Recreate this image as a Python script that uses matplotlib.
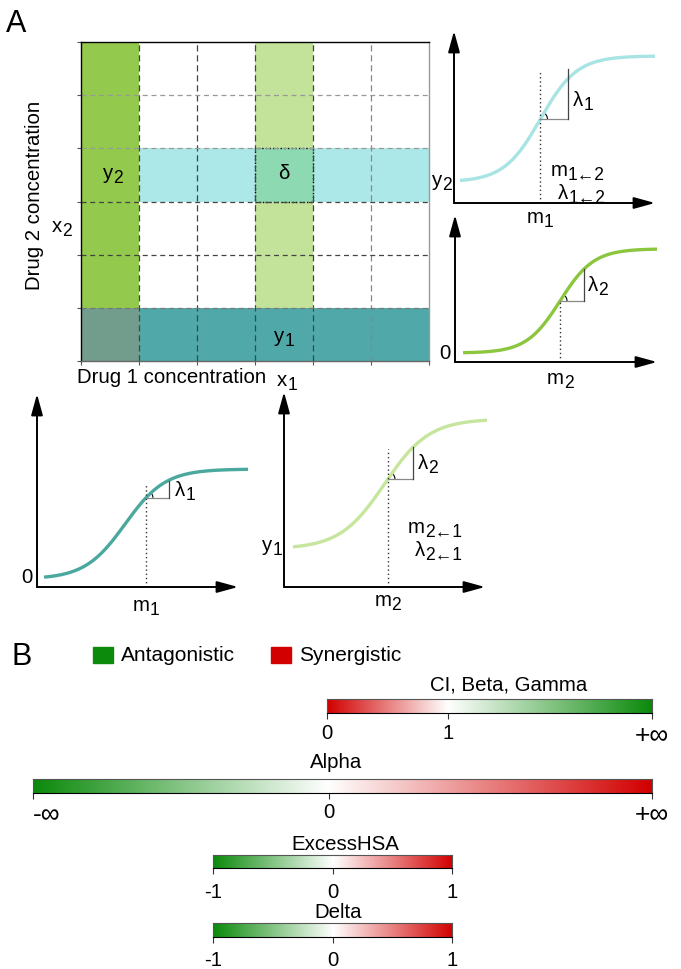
import numpy as np
import matplotlib
matplotlib.use("Agg")
import matplotlib.pyplot as plt
import matplotlib.patches as mpatches
from matplotlib.colors import ListedColormap, LinearSegmentedColormap
from matplotlib.transforms import IdentityTransform

plt.rcParams["font.family"] = ["Liberation Sans", "DejaVu Sans"]

W, H = 681, 970
FS = 14.7

# ── Data ─────────────────────────────────────────────────────────────────────
# dose-response matrix, row 0 = lowest drug 2 concentration
CELL_COLORS = ["#FFFFFF", "#93C94C", "#C3E39B", "#ADE8E8", "#8DD9B1", "#50A8A8", "#729C8B"]
GRID = [
    [6, 5, 5, 5, 5, 5],
    [1, 0, 0, 2, 0, 0],
    [1, 0, 0, 2, 0, 0],
    [1, 3, 3, 4, 3, 3],
    [1, 0, 0, 2, 0, 0],
    [1, 0, 0, 2, 0, 0],
]

# four dose-response curves (top-right, mid-right, bottom-left, bottom-middle)
CURVE_BOTTOM = [0.122, 0.061, 0.041, 0.195]
CURVE_TOP    = [0.855, 0.770, 0.611, 0.862]
CURVE_MID    = [0.43, 0.52, 0.438, 0.50]
CURVE_SLOPE  = [11, 12, 10, 9]
CURVE_START  = [0.03, 0.04, 0.035, 0.045]
CURVE_END    = [1.0, 1.0, 1.05, 1.01]
MARK_X       = [0.43, 0.52, 0.542, 0.517]
TRI_DX       = [0.139, 0.119, 0.114, 0.124]
TRI_TOP      = [0.779, 0.633, 0.55, 0.718]
CURVE_COLORS = ["#A8E4E4", "#8CC63F", "#4BA89F", "#C6E59D"]

# colour scales
GREEN = "#0B8A0B"
RED   = "#D20000"
BAR_NAMES  = ["CI, Beta, Gamma", "Alpha", "ExcessHSA", "Delta"]
BAR_TICKS  = [[0, 0.372, 1], [0, 0.478, 1], [0, 0.502, 1], [0, 0.502, 1]]
BAR_LABELS = [["0", "1", "+∞"], ["-∞", "0", "+∞"], ["-1", "0", "1"], ["-1", "0", "1"]]
BAR_ENDS   = [(RED, GREEN), (GREEN, RED), (GREEN, RED), (GREEN, RED)]

fig = plt.figure(figsize=(W / 100, H / 100), dpi=100)
renderer = fig.canvas.get_renderer()


def px_axes(l, t, r, b):
    return fig.add_axes([l / W, 1 - b / H, (r - l) / W, (b - t) / H])


def ftext(x, y, s, **kw):
    kw.setdefault("fontsize", FS)
    fig.text(x / W, 1 - y / H, s, **kw)


def sublabel(xd, yd, main, sub="", ha="left", size=FS):
    """main letter plus lowered subscript; xd, yd in display px, yd = glyph centre"""
    t1 = fig.text(0, 0, main, fontsize=size, transform=IdentityTransform(), va="baseline")
    t2 = fig.text(0, 0, sub, fontsize=size * 0.86, transform=IdentityTransform(), va="baseline")
    w1 = t1.get_window_extent(renderer).width
    w2 = t2.get_window_extent(renderer).width if sub else 0
    x0 = xd - {"left": 0, "center": (w1 + w2) / 2, "right": w1 + w2}[ha]
    base = yd - 0.3 * size * 100 / 72
    t1.set_position((x0, base))
    t2.set_position((x0 + w1, base - 4))


# ── Panel letters ────────────────────────────────────────────────────────────
ftext(6, 32, "A", fontsize=22, va="baseline")
ftext(11, 665, "B", fontsize=22, va="baseline")

# ── Matrix ───────────────────────────────────────────────────────────────────
ax = px_axes(81, 43, 429, 362)
ax.pcolormesh(np.array(GRID), cmap=ListedColormap(CELL_COLORS), vmin=-0.5, vmax=6.5)
ax.set_xlim(0, 6)
ax.set_ylim(0, 6)
for x, c in zip(range(1, 6), ["#444", "#444", "#444", "#444", "#888"]):
    ax.axvline(x, color=c, lw=0.9, dashes=(5, 3))
for y, c in zip(range(1, 6), ["#777", "#444", "#444", "#999", "#999"]):
    ax.axhline(y, color=c, lw=0.9, dashes=(4, 3))
ax.add_patch(mpatches.Rectangle((3, 3), 1, 1, fill=False, ec="black", lw=1, ls=":"))
ax.set_xticks(range(7))
ax.set_yticks(range(7))
ax.tick_params(length=3, width=0.8, color="#555", labelbottom=False, labelleft=False)
for s, c in [("top", "black"), ("left", "black"), ("right", "#999"), ("bottom", "#666")]:
    ax.spines[s].set_color(c)
    ax.spines[s].set_linewidth(1)
fig.canvas.draw()
for (x, y), m, s in [((0.55, 3.55), "y", "2"), ((3.5, 0.5), "y", "1")]:
    xd, yd = ax.transData.transform((x, y))
    sublabel(xd, yd, m, s, ha="center")
ax.text(3.5, 3.55, "δ", fontsize=FS, ha="center", va="center")

ftext(35, 195, "Drug 2 concentration", rotation=90, ha="center", va="center")
sublabel(52, H - 226, "x", "2")
ftext(77, 378, "Drug 1 concentration", ha="left", va="center")
sublabel(277, H - 380, "x", "1")

# ── Curves ───────────────────────────────────────────────────────────────────
PANEL_BOX = [(454, 32, 655, 204), (455, 216, 657, 363), (37, 395, 238, 588), (284, 393, 485, 588)]
PANEL_TEXT = [
    [(0.592, 0.605, "λ", "1", "left"),
     (0.483, 0.198, "m", "1←2", "left"),
     (0.517, 0.064, "λ", "1←2", "left"),
     (-0.01, 0.14, "y", "2", "right"),
     (0.428, -0.076, "m", "1", "center")],
    [(0.658, 0.53, "λ", "2", "left"),
     (-0.02, 0.068, "0", "", "right"),
     (0.52, -0.102, "m", "2", "center")],
    [(0.687, 0.508, "λ", "1", "left"),
     (-0.02, 0.057, "0", "", "right"),
     (0.542, -0.088, "m", "1", "center")],
    [(0.667, 0.641, "λ", "2", "left"),
     (0.617, 0.313, "m", "2←1", "left"),
     (0.652, 0.195, "λ", "2←1", "left"),
     (-0.01, 0.22, "y", "1", "right"),
     (0.517, -0.062, "m", "2", "center")],
]
DOT_TOP = [0.767, None, 0.54, 0.708]

for i, box in enumerate(PANEL_BOX):
    a = px_axes(*box)
    a.set_xlim(0, 1)
    a.set_ylim(0, 1)
    a.axis("off")
    wpx, hpx = box[2] - box[0], box[3] - box[1]

    def f(x, i=i):
        return CURVE_BOTTOM[i] + (CURVE_TOP[i] - CURVE_BOTTOM[i]) / (
            1 + np.exp(-CURVE_SLOPE[i] * (x - CURVE_MID[i])))

    xs = np.linspace(CURVE_START[i], CURVE_END[i], 200)
    a.plot(xs, f(xs), color=CURVE_COLORS[i], lw=2.4, clip_on=False, solid_capstyle="butt")

    for tip in [(1, 0), (0, 1)]:
        a.annotate("", xy=tip, xytext=(0, 0),
                   arrowprops=dict(arrowstyle="-|>,head_length=0.8,head_width=0.22",
                                   mutation_scale=16, lw=1.4, color="black",
                                   shrinkA=0, shrinkB=0))

    mx = MARK_X[i]
    my = f(mx)
    top = DOT_TOP[i] if DOT_TOP[i] is not None else my
    a.plot([mx, mx], [0, top], color="#333", lw=1, ls=(0, (1, 2)))
    a.plot([mx, mx + TRI_DX[i]], [my, my], color="#888", lw=0.9)
    a.plot([mx + TRI_DX[i], mx + TRI_DX[i]], [my, TRI_TOP[i]], color="#444", lw=0.9)
    ang = np.degrees(np.arctan2((TRI_TOP[i] - my) * hpx, TRI_DX[i] * wpx))
    r = 7
    a.add_patch(mpatches.Arc((mx, my), 2 * r / wpx, 2 * r / hpx, theta1=0, theta2=ang,
                             color="black", lw=0.8))

    for x, y, m, s, ha in PANEL_TEXT[i]:
        xd, yd = a.transData.transform((x, y))
        sublabel(xd, yd, m, s, ha=ha)

# ── Legend ───────────────────────────────────────────────────────────────────
for x0, c, lab in [(93, GREEN, "Antagonistic"), (271, RED, "Synergistic")]:
    fig.patches.append(mpatches.Rectangle((x0 / W, 1 - 664 / H), 20 / W, 16 / H,
                                          transform=fig.transFigure, color=c))
    ftext(x0 + 28, 661, lab, fontsize=15, va="baseline")

# ── Colour scales ────────────────────────────────────────────────────────────
BAR_BOX = [(327, 700, 652, 714), (33, 780, 652, 794), (213, 856, 452, 869), (213, 924, 452, 938)]
TITLE_POS = [(509, 685), (336, 763), (345, 845), (338, 913)]
LABEL_PAD = [2.5, 2.0, 5.5, 5.0]

for i, box in enumerate(BAR_BOX):
    b = px_axes(*box)
    mid = BAR_TICKS[i][1]
    cmap = LinearSegmentedColormap.from_list(
        "s%d" % i, [(0, BAR_ENDS[i][0]), (mid, "white"), (1, BAR_ENDS[i][1])])
    b.imshow(np.linspace(0, 1, 512)[None, :], aspect="auto", cmap=cmap,
             extent=(0, 1, 0, 1), interpolation="bilinear")
    b.set_xlim(0, 1)
    b.set_ylim(0, 1)
    b.set_yticks([])
    b.set_xticks(BAR_TICKS[i])
    b.set_xticklabels(BAR_LABELS[i])
    b.tick_params(axis="x", direction="out", length=4.5, width=0.8, color="#333",
                  pad=LABEL_PAD[i], labelsize=FS)
    for lab in b.get_xticklabels():
        if "∞" in lab.get_text():
            lab.set_fontsize(19)
            if lab.get_text().startswith("-"):
                lab.set_horizontalalignment("left")
    for s in b.spines.values():
        s.set_linewidth(0.8)
        s.set_color("#555")
    b.spines["bottom"].set_color("black")
    tx, ty = TITLE_POS[i]
    ftext(tx, ty, BAR_NAMES[i], ha="center", va="center")

fig.savefig("out.png", dpi=100)
